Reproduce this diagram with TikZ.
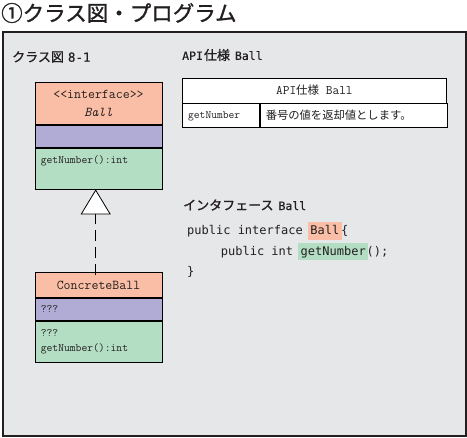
\documentclass[tikz,border=0pt]{standalone}
\usepackage{fontspec}
\setmainfont{Liberation Serif}
\newfontfamily\jp{Noto Sans CJK JP}
\newfontfamily\jpb[FakeBold=1.2]{Noto Sans CJK JP}
\newfontfamily\smono{DejaVu Sans Mono}
\newfontfamily\smonob[FakeBold=0.6]{DejaVu Sans Mono}
\newcommand\rmono{\ttfamily}
\usetikzlibrary{arrows.meta}
\definecolor{bggray}{HTML}{E6E7E9}
\definecolor{corange}{HTML}{F9BEA5}
\definecolor{cpurple}{HTML}{B1ACD6}
\definecolor{cgreen}{HTML}{B3DEC3}
\definecolor{ink}{HTML}{231F20}
\begin{document}
\begin{tikzpicture}[x=1pt,y=-1pt,
  comp/.style={draw=black, line width=0.8pt, minimum width=127pt, inner sep=0pt, anchor=north},
  cell/.style={draw=black, line width=0.8pt, fill=white, inner sep=0pt, anchor=north west},
  lbl/.style={inner sep=0pt, text=ink, font=\rmono\fontsize{11.3}{13}\selectfont},
  hd/.style={inner sep=0pt, anchor=west, text=ink, font=\jpb\fontsize{13}{15}\selectfont},
  code/.style={inner sep=0pt, anchor=base west, text=ink, font=\smono\fontsize{12}{14}\selectfont},
  hl/.style={inner xsep=2.5pt, inner ysep=0pt, text height=12.8pt, text depth=4.8pt, anchor=base west, text=ink, font=\smono\fontsize{12}{14}\selectfont},
  realize/.style={line width=0.8pt, dash pattern=on 11pt off 6pt, -{Triangle[length=25pt,width=30pt,fill=white,line width=0.8pt]}}]
\useasboundingbox (0,0) rectangle (467,438);
\fill[white] (0,0) rectangle (467,438);
% title
\node[inner sep=0pt, anchor=west, text=ink, font=\jpb\fontsize{21.5}{24}\selectfont] (title) at (1,13) {①クラス図・プログラム};
% frame
\node[draw=ink, line width=1.6pt, fill=bggray, minimum width=463pt, minimum height=404pt, inner sep=0pt] (frame) at (234.5,234) {};
% headings
\node[hd] (hclass) at (12,57) {クラス図\hspace{4pt}{\smonob\fontsize{12.5}{15}\selectfont 8-1}};
\node[hd] (hapi) at (182,55) {{\smonob\fontsize{11.5}{15}\selectfont API}\hspace{1pt}仕様\hspace{5pt}{\smonob\fontsize{11.5}{15}\selectfont Ball}};
\node[hd] (hif) at (183,205) {インタフェース\hspace{5pt}{\smonob\fontsize{11.5}{15}\selectfont Ball}};
% interface Ball
\node[comp, fill=corange, minimum height=42pt, align=center, text=ink, font=\rmono\fontsize{13.5}{17.7}\selectfont] (ihead) at (98.5,82) {<\kern0pt<interface>\kern0pt>\\\textit{Ball}};
\node[comp, fill=cpurple, minimum height=22pt] (iattr) at (ihead.south) {};
\node[comp, fill=cgreen, minimum height=41pt] (iops) at (iattr.south) {};
\node[lbl, anchor=base west] (iop1) at ([xshift=6pt,yshift=-15.5pt]iops.north west) {getNumber():int};
% ConcreteBall
\node[comp, fill=corange, minimum height=25pt, text=ink, font=\rmono\fontsize{13.5}{15}\selectfont] (chead) at (98.5,272.3) {ConcreteBall};
\node[comp, fill=cpurple, minimum height=22pt] (cattr) at (chead.south) {};
\node[comp, fill=cgreen, minimum height=41.4pt] (cops) at (cattr.south) {};
\node[lbl, anchor=base west] (cattr1) at ([xshift=6pt,yshift=-14pt]cattr.north west) {???};
\node[lbl, anchor=base west] (cop1) at ([xshift=6pt,yshift=-16pt]cops.north west) {???};
\node[lbl, anchor=base west] (cop2) at ([xshift=6pt,yshift=-30.2pt]cops.north west) {getNumber():int};
% realization
\draw[realize] ([xshift=-2.8pt,yshift=-3pt]chead.north) -- ([xshift=-2.8pt]iops.south);
% API table
\node[cell, minimum width=264pt, minimum height=25pt, text=ink] (thead) at (182,77.7) {{\rmono\fontsize{13}{15}\selectfont API}{\jp\fontsize{11.5}{14}\selectfont 仕様}{\rmono\fontsize{13}{15}\selectfont\ Ball}};
\node[cell, minimum width=77.3pt, minimum height=23.3pt] (tc1) at (thead.south west) {};
\node[cell, minimum width=186.7pt, minimum height=23.3pt] (tc2) at (tc1.north east) {};
\node[lbl, anchor=west, font=\rmono\fontsize{11.2}{13}\selectfont] (tc1t) at ([xshift=6pt,yshift=-0.5pt]tc1.west) {getNumber};
\node[inner sep=0pt, anchor=west, text=ink, font=\jp\fontsize{11.3}{14}\selectfont] (tc2t) at ([xshift=5.5pt]tc2.west) {番号の値を返却値とします。};
% code
\node[code] (l1a) at (187,235) {public interface};
\node[hl, fill=corange] (l1b) at ([xshift=4.7pt]l1a.base east) {Ball};
\node[code] (l1c) at ([xshift=-1pt]l1b.base east) {\{};
\node[code] (l2a) at (220.7,255.5) {public int};
\node[hl, fill=cgreen] (l2b) at ([xshift=4.7pt]l2a.base east) {getNumber};
\node[code] (l2c) at ([xshift=-2pt]l2b.base east) {();};
\node[code] (l3) at (187,276) {\}};
\end{tikzpicture}
\end{document}
